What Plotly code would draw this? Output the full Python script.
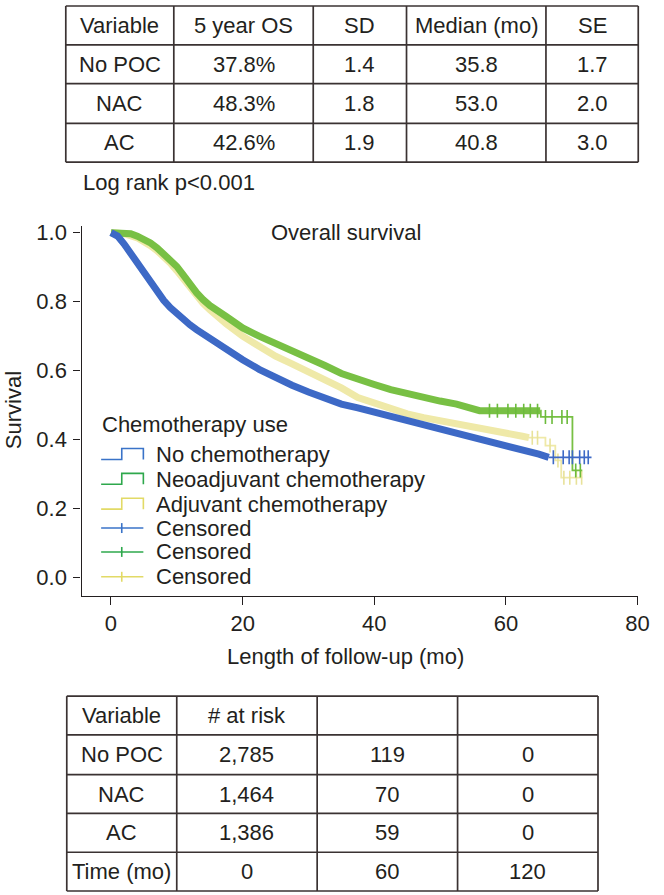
import numpy as np
import plotly.graph_objects as go

W, H = 664, 895
FONT = "Liberation Sans, Arial, sans-serif"
TXT = "#231f20"
LINE = "#3a3232"
FS = 22

# ---------------- data ----------------
tbl_header = ["Variable", "5 year OS", "SD", "Median (mo)", "SE"]
groups = ["No POC", "NAC", "AC"]
os5 = ["37.8%", "48.3%", "42.6%"]
sd_vals = ["1.4", "1.8", "1.9"]
median_vals = ["35.8", "53.0", "40.8"]
se_vals = ["1.7", "2.0", "3.0"]
logrank_text = "Log rank p<0.001"

risk_header = ["Variable", "# at risk", "", ""]
risk_groups = ["No POC", "NAC", "AC"]
risk_t0 = ["2,785", "1,464", "1,386"]
risk_t60 = ["119", "70", "59"]
risk_t120 = ["0", "0", "0"]
time_row = ["Time (mo)", "0", "60", "120"]

legend_title = "Chemotherapy use"
series_names = ["No chemotherapy", "Neoadjuvant chemotherapy", "Adjuvant chemotherapy"]
censor_names = ["Censored", "Censored", "Censored"]

# Kaplan-Meier curves
t_none = [0, 1, 2, 3, 4, 5, 6, 7, 8, 9, 10, 11, 12, 13, 14, 15, 17.5, 20, 22.5, 25, 27.5,
          30, 32.5, 35, 37.5, 40, 42.5, 45, 47.5, 50, 52.5, 55, 57.5, 60, 62.5, 65, 66.5, 73]
s_none = [1.0, 0.99, 0.967, 0.94, 0.911, 0.882, 0.854, 0.828, 0.804, 0.783, 0.765, 0.748, 0.733,
          0.719, 0.706, 0.694, 0.664, 0.632, 0.604, 0.58, 0.558, 0.538, 0.52, 0.503, 0.492, 0.48,
          0.47, 0.456, 0.444, 0.432, 0.42, 0.41, 0.398, 0.383, 0.372, 0.358, 0.349, 0.349]
cens_none = [67.2, 68.7, 69.6, 70.1, 71.2, 71.9, 72.5]

t_nac = [0, 2, 3, 4, 5, 6, 7, 8, 9, 10, 11, 12, 13, 14, 15, 17.5, 20, 22.5, 25, 27.5, 30,
         32.5, 35, 37.5, 40, 42.5, 45, 47.5, 50, 52.5, 55, 56, 65.2, 65.3, 70.1, 71.6]
s_nac = [1.0, 0.999, 0.997, 0.99, 0.982, 0.97, 0.956, 0.94, 0.922, 0.902, 0.877, 0.85, 0.826,
         0.806, 0.789, 0.757, 0.724, 0.70, 0.68, 0.66, 0.638, 0.615, 0.592, 0.574, 0.56, 0.545,
         0.533, 0.522, 0.512, 0.503, 0.49, 0.484, 0.484, 0.466, 0.311, 0.311]
cens_nac = [57.5, 58.7, 60.3, 61.5, 62.7, 63.7, 64.8, 66.0, 67.0, 68.5, 69.3, 70.6, 71.3]

t_ac = [0, 2, 4, 5, 6, 7, 8, 9, 10, 11, 12, 13, 14, 15, 16, 17.5, 20, 22.5, 25, 27.5, 30,
        32.5, 35, 37.5, 40, 42.5, 45, 47.5, 50, 52.5, 55, 57.5, 60, 62.5, 63.5, 66.0, 67.5,
        68.4, 71.6]
s_ac = [1.0, 0.997, 0.985, 0.975, 0.962, 0.948, 0.932, 0.912, 0.89, 0.866, 0.841, 0.816, 0.795,
        0.777, 0.76, 0.736, 0.70, 0.67, 0.642, 0.62, 0.597, 0.575, 0.55, 0.522, 0.505, 0.487,
        0.475, 0.464, 0.455, 0.448, 0.438, 0.43, 0.424, 0.41, 0.406, 0.383, 0.34, 0.29, 0.29]
cens_ac = [64.0, 64.8, 66.7, 67.9, 68.8, 69.7, 70.7, 71.5]

curve_colors = ["#3d69c6", "#78c044", "#efe9a8"]
mark_colors = ["#3d69c6", "#6cbb3c", "#e8e29a"]
legend_colors = ["#3a73c8", "#2ea84c", "#e2da66"]
body_end = [66.5, 65.2, 63.5]

x_ticks = [0, 20, 40, 60, 80]
y_ticks = [0.0, 0.2, 0.4, 0.6, 0.8, 1.0]


def px(x):
    return x / W


def py(y):
    return 1 - y / H


fig = go.Figure()

curves = [(t_none, s_none, cens_none), (t_nac, s_nac, cens_nac), (t_ac, s_ac, cens_ac)]
# draw yellow first, then green, then blue on top
for i in [2, 1, 0]:
    t, s, c = curves[i]
    t = np.array(t, float)
    s = np.array(s, float)
    m = t <= body_end[i]
    fig.add_trace(go.Scatter(x=t[m], y=s[m], mode="lines",
                             line=dict(color=curve_colors[i], width=7),
                             showlegend=False, hoverinfo="skip"))
    m2 = t >= body_end[i]
    fig.add_trace(go.Scatter(x=t[m2], y=s[m2], mode="lines",
                             line=dict(color=curve_colors[i], width=1.8, shape="hv"),
                             showlegend=False, hoverinfo="skip"))
    c = np.array(c, float)
    idx = np.searchsorted(t, c, side="right") - 1
    fig.add_trace(go.Scatter(x=c, y=s[idx], mode="markers",
                             marker=dict(symbol="line-ns", size=10,
                                         line=dict(color=mark_colors[i], width=1.6)),
                             showlegend=False, hoverinfo="skip"))

shapes = []
ann = []


def text(x, y, s, size=FS, xanchor="center", **kw):
    ann.append(dict(x=px(x), y=py(y), xref="paper", yref="paper", text=s, showarrow=False,
                    xanchor=xanchor, yanchor="middle", font=dict(family=FONT, size=size, color=TXT),
                    **kw))


def hline(x0, x1, y, color=LINE, w=1.7):
    shapes.append(dict(type="line", xref="paper", yref="paper", x0=px(x0), x1=px(x1),
                       y0=py(y), y1=py(y), line=dict(color=color, width=w)))


def vline(x, y0, y1, color=LINE, w=1.7):
    shapes.append(dict(type="line", xref="paper", yref="paper", x0=px(x), x1=px(x),
                       y0=py(y0), y1=py(y1), line=dict(color=color, width=w)))


# ---------------- top table ----------------
cols1 = [67, 177, 319, 414, 556, 650]
rows1 = [1, 40, 79, 119, 158]
for y in rows1:
    hline(cols1[0], cols1[-1], y)
for x in cols1:
    vline(x, rows1[0], rows1[-1])
table1 = [tbl_header] + [[g, a, b, c, d] for g, a, b, c, d in
                         zip(groups, os5, sd_vals, median_vals, se_vals)]
for r, row in enumerate(table1):
    yc = (rows1[r] + rows1[r + 1]) / 2
    for k, val in enumerate(row):
        text((cols1[k] + cols1[k + 1]) / 2, yc, val)
text(82, 179, logrank_text, xanchor="left")

# ---------------- bottom table ----------------
cols2 = [68, 180, 323, 466, 609]
rows2 = [695, 734, 774, 813, 852, 891]
for y in rows2:
    hline(cols2[0], cols2[-1], y)
for x in cols2:
    vline(x, rows2[0], rows2[-1])
table2 = [risk_header] + [[g, a, b, c] for g, a, b, c in
                          zip(risk_groups, risk_t0, risk_t60, risk_t120)] + [time_row]
for r, row in enumerate(table2):
    yc = (rows2[r] + rows2[r + 1]) / 2
    for k, val in enumerate(row):
        if val:
            text((cols2[k] + cols2[k + 1]) / 2, yc, val)

# ---------------- plot texts ----------------
text(352, 229, "Overall survival")
text(352, 655, "Length of follow-up (mo)")
ann.append(dict(x=0, y=py(408), xref="paper", yref="paper", text="Survival", showarrow=False,
                xanchor="left", yanchor="middle", textangle=-90, borderpad=0,
                font=dict(family=FONT, size=FS, color=TXT)))

# ---------------- legend ----------------
text(102, 422, legend_title, xanchor="left")
leg_rows = [452, 477, 502, 526, 550, 575]
for i in range(3):
    y = leg_rows[i]
    path = "M {a},{b} L {c},{b} L {c},{d} L {e},{d} L {e},{b}".format(
        a=px(103), b=py(y + 5), c=px(124), d=py(y - 6), e=px(146))
    shapes.append(dict(type="path", xref="paper", yref="paper", path=path,
                       line=dict(color=legend_colors[i], width=1.6)))
    text(157, y, series_names[i], xanchor="left")
for i in range(3):
    y = leg_rows[3 + i]
    hline(103, 146, y, color=legend_colors[i], w=1.6)
    vline(124, y - 5, y + 5, color=legend_colors[i], w=1.6)
    text(157, y, censor_names[i], xanchor="left")

fig.update_layout(
    width=W, height=H, autosize=False,
    margin=dict(l=0, r=0, t=0, b=0),
    paper_bgcolor="white", plot_bgcolor="white",
    showlegend=False,
    shapes=shapes, annotations=ann,
    font=dict(family=FONT, size=FS, color=TXT),
    xaxis=dict(domain=[px(83), px(650)], range=[-4.48, 80.1], tickvals=x_ticks,
               ticks="outside", ticklen=8, tickwidth=1.2, tickcolor=TXT,
               showline=True, linecolor=TXT, linewidth=1.4, showgrid=False, zeroline=False,
               tickfont=dict(family=FONT, size=FS, color=TXT)),
    yaxis=dict(domain=[py(594), py(222)], range=[-0.052, 1.02], tickvals=y_ticks,
               tickformat=".1f", ticks="outside", ticklen=7, tickwidth=1.2, tickcolor=TXT,
               ticklabelstandoff=2,
               showline=True, linecolor=TXT, linewidth=1.4, showgrid=False, zeroline=False,
               tickfont=dict(family=FONT, size=FS, color=TXT)),
)

fig.write_html("out.html", config={"displayModeBar": False},
               post_script="document.body.style.margin='0';")
